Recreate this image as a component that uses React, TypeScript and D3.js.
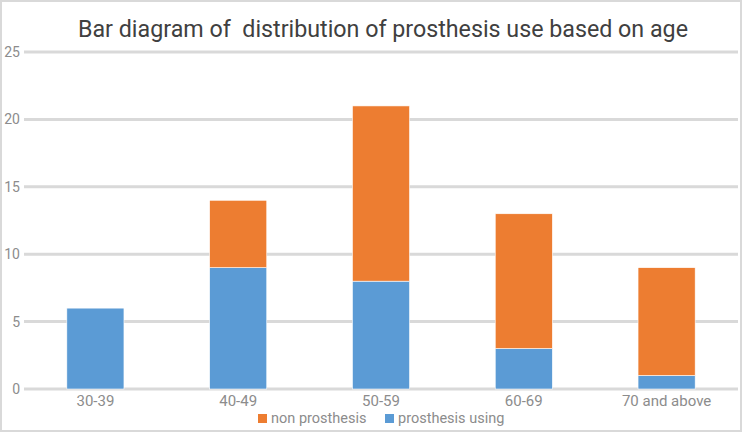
import React, { useRef, useEffect } from "react";
import * as d3 from "d3";

const categories = ["30-39", "40-49", "50-59", "60-69", "70 and above"];
const prosthesisUsing = [6, 9, 8, 3, 1];
const nonProsthesis = [0, 5, 13, 10, 8];
const yTicks = [0, 5, 10, 15, 20, 25];
const seriesNames = ["non prosthesis", "prosthesis using"];

const App = () => {
  const svgRef = useRef<SVGSVGElement>(null);
  const width = 742;
  const height = 432;

  useEffect(() => {
    const svg = d3.select(svgRef.current);
    svg.selectAll("*").remove();

    const font = "Roboto, 'Liberation Sans', sans-serif";

    // outer frame
    svg
      .append("rect")
      .attr("x", 1)
      .attr("y", 1)
      .attr("width", width - 2)
      .attr("height", height - 2)
      .attr("fill", "#fff")
      .attr("stroke", "#d9d9d9")
      .attr("stroke-width", 2);

    svg
      .append("text")
      .attr("x", 383)
      .attr("y", 37)
      .attr("text-anchor", "middle")
      .attr("font-family", font)
      .attr("font-size", 24)
      .attr("textLength", 610)
      .attr("lengthAdjust", "spacingAndGlyphs")
      .attr("fill", "#404040")
      .style("white-space", "pre")
      .text("Bar diagram of  distribution of prosthesis use based on age");

    const x = d3.scaleBand().domain(categories).range([24, 738]).paddingInner(0.6).paddingOuter(0.3);
    const y = d3.scaleLinear().domain([0, 25]).range([389, 52]);

    const grid = svg.append("g");
    yTicks.forEach((t) => {
      grid
        .append("line")
        .attr("x1", 24)
        .attr("x2", 738)
        .attr("y1", y(t))
        .attr("y2", y(t))
        .attr("stroke", "#d9d9d9")
        .attr("stroke-width", 3);
      grid
        .append("text")
        .attr("x", 20)
        .attr("y", y(t) + 5)
        .attr("text-anchor", "end")
        .attr("font-family", font)
        .attr("font-size", 14)
        .attr("fill", "#8c8c8c")
        .text(t);
    });

    const data = categories.map((c, i) => ({
      cat: c,
      using: prosthesisUsing[i],
      non: nonProsthesis[i],
    }));
    const stack = d3.stack<any>().keys(["using", "non"]);
    const layers = stack(data);
    const colors = { using: "#5b9bd5", non: "#ed7d31" };

    layers.forEach((layer) => {
      svg
        .append("g")
        .selectAll("rect")
        .data(layer.filter((d) => d[1] > d[0]))
        .enter()
        .append("rect")
        .attr("x", (d) => x(d.data.cat) as number)
        .attr("width", x.bandwidth())
        .attr("y", (d) => y(d[1]))
        .attr("height", (d) => y(d[0]) - y(d[1]))
        .attr("fill", colors[layer.key as "using" | "non"])
        .attr("stroke", "#fff")
        .attr("stroke-width", 0.6);
    });

    svg
      .append("g")
      .selectAll("text")
      .data(categories)
      .enter()
      .append("text")
      .attr("x", (d) => (x(d) as number) + x.bandwidth() / 2)
      .attr("y", 406)
      .attr("text-anchor", "middle")
      .attr("font-family", font)
      .attr("font-size", 15)
      .attr("fill", "#8c8c8c")
      .text((d) => d);

    const legendX = [258, 385];
    const legendColors = [colors.non, colors.using];
    seriesNames.forEach((name, i) => {
      svg
        .append("rect")
        .attr("x", legendX[i])
        .attr("y", 414)
        .attr("width", 9)
        .attr("height", 9)
        .attr("fill", legendColors[i]);
      svg
        .append("text")
        .attr("x", legendX[i] + 13)
        .attr("y", 423)
        .attr("font-family", font)
        .attr("font-size", 14.5)
        .attr("fill", "#8c8c8c")
        .text(name);
    });
  }, []);

  return (
    <svg
      ref={svgRef}
      width={width}
      height={height}
      style={{ position: "absolute", left: 0, top: 0 }}
    />
  );
};

export default App;
